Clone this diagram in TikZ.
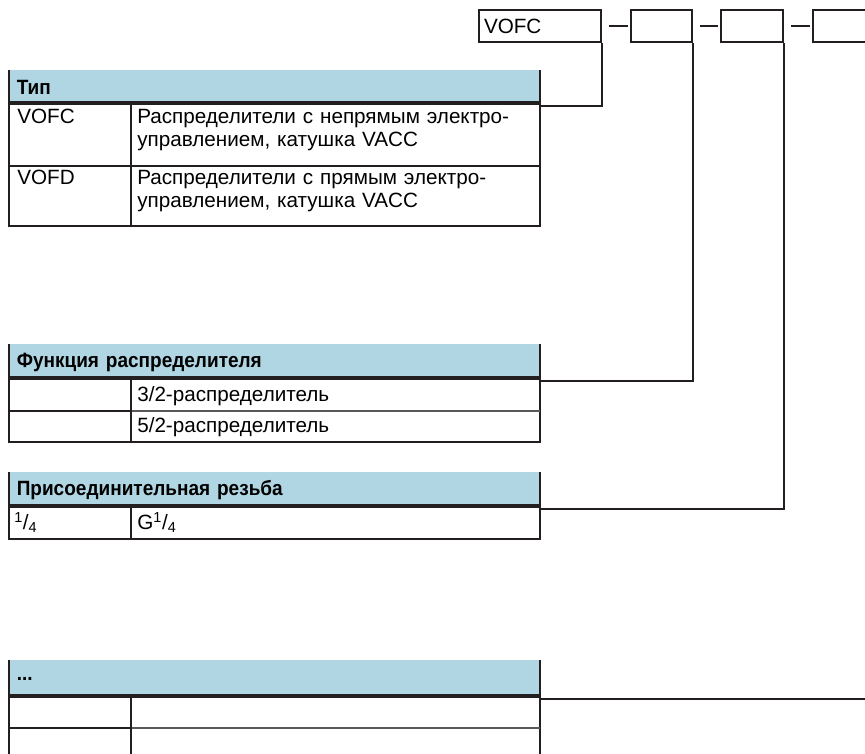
\documentclass[tikz,border=0pt]{standalone}
\usepackage{fontspec}
\setmainfont{Liberation Sans}
\newfontfamily\hdrfam[FakeStretch=0.92]{Liberation Sans}
\usepackage{tikz}

\definecolor{hdrblue}{RGB}{176,214,228}
\definecolor{rulec}{RGB}{35,31,32}
\newcommand{\bodyfont}{\fontsize{15.5}{17.25}\selectfont}
\newcommand{\hdrfont}{\hdrfam\fontsize{15.5}{18}\selectfont\bfseries}
\newcommand{\frq}{\textsuperscript{1}/\textsubscript{4}}

\begin{document}
\begin{tikzpicture}[x=0.75pt,y=0.75pt,yscale=-1,xscale=1,
  rule/.style={draw=rulec, line width=1.5},
  softrule/.style={draw=rulec!75, line width=1.2},
  codebox/.style={draw=rulec, line width=1.5, anchor=north west, minimum height=24pt, minimum width=45.75pt, inner sep=0pt},
  codetext/.style={codebox, text width=84pt, inner xsep=3.75pt, align=left, font=\bodyfont},
  hdr/.style={anchor=north west, fill=hdrblue, minimum width=398.25pt, text width=387pt, inner xsep=5.6pt, inner ysep=0pt, align=left, font=\hdrfont},
  celltxt/.style={anchor=north west, inner sep=0pt, text width=300pt, align=left, font=\bodyfont}
]
\path[use as bounding box, clip] (0,0) rectangle (865,754);

%Shape: Rectangle (order code)
\node[codetext] (vofc) at (478,9) {VOFC};
\node[codebox] (fnbox) at (630,9) {};
\node[codebox, minimum width=46.5pt] (thbox) at (720,9) {};
\node[codebox] (xxbox) at (812,9) {};

%Straight Lines
\draw[rule] ([xshift=5.25pt]vofc.east) -- ([xshift=-1.5pt]fnbox.west);
\draw[rule] ([xshift=5.25pt]fnbox.east) -- ([xshift=-1.5pt]thbox.west);
\draw[rule] ([xshift=5.25pt]thbox.east) -- ([xshift=-1.5pt]xxbox.west);

%Shape: Table (type)
\node[hdr, minimum height=26.25pt] (typhdr) at (9,70) {Тип};
\fill[rulec] (9,101) rectangle (540,105);
\draw[rule] (9,70) -- (9,226) -- (540,226) -- (540,70);
\draw[rule] (9,166) -- (540,166);
\draw[rule] (131,105) -- (131,226);
\node[celltxt] (typa) at (17,107) {\strut VOFC};
\node[celltxt] (typb) at (137,107) {\strut Распределители с непрямым электро-\\управлением, катушка VACC};
\node[celltxt] (typc) at (17,168) {\strut VOFD};
\node[celltxt] (typd) at (137,168) {\strut Распределители с прямым электро-\\управлением, катушка VACC};

%Shape: Table (valve function)
\node[hdr, minimum height=27pt] (funhdr) at (9,344) {Функция распределителя};
\fill[rulec] (9,376) rectangle (540,380);
\draw[rule] (9,344) -- (9,442) -- (540,442) -- (540,344);
\draw[rule] (9,411) -- (131,411);
\draw[softrule] (131,411) -- (540,411);
\draw[rule] (131,380) -- (131,442);
\node[celltxt] (funa) at (137,385) {\strut 3/2-распределитель};
\node[celltxt] (funb) at (137,416) {\strut 5/2-распределитель};

%Shape: Table (thread)
\node[hdr, minimum height=27pt] (thrhdr) at (9,472) {Присоединительная резьба};
\fill[rulec] (9,504) rectangle (540,508);
\draw[rule] (9,472) -- (9,539) -- (540,539) -- (540,472);
\draw[rule] (131,508) -- (131,539);
\node[celltxt] (thra) at (14,512) {\strut\frq};
\node[celltxt] (thrb) at (137,512) {\strut G\frq};

%Shape: Table (further)
\node[hdr, minimum height=28.5pt] (dothdr) at (9,660) {...};
\fill[rulec] (9,694) rectangle (540,698);
\draw[rule] (9,660) -- (9,760);
\draw[rule] (540,660) -- (540,760);
\draw[rule] (9,728) -- (131,728);
\draw[softrule] (131,728) -- (540,728);
\draw[rule] (131,698) -- (131,760);

%Straight Lines (connectors)
\draw[rule] (vofc.south east) |- (typhdr.south east);
\draw[rule] (fnbox.south east) |- (funhdr.south east);
\draw[rule] (thbox.south east) |- (thrhdr.south east);
\draw[rule] (xxbox.south east) |- (dothdr.south east);

\end{tikzpicture}
\end{document}
